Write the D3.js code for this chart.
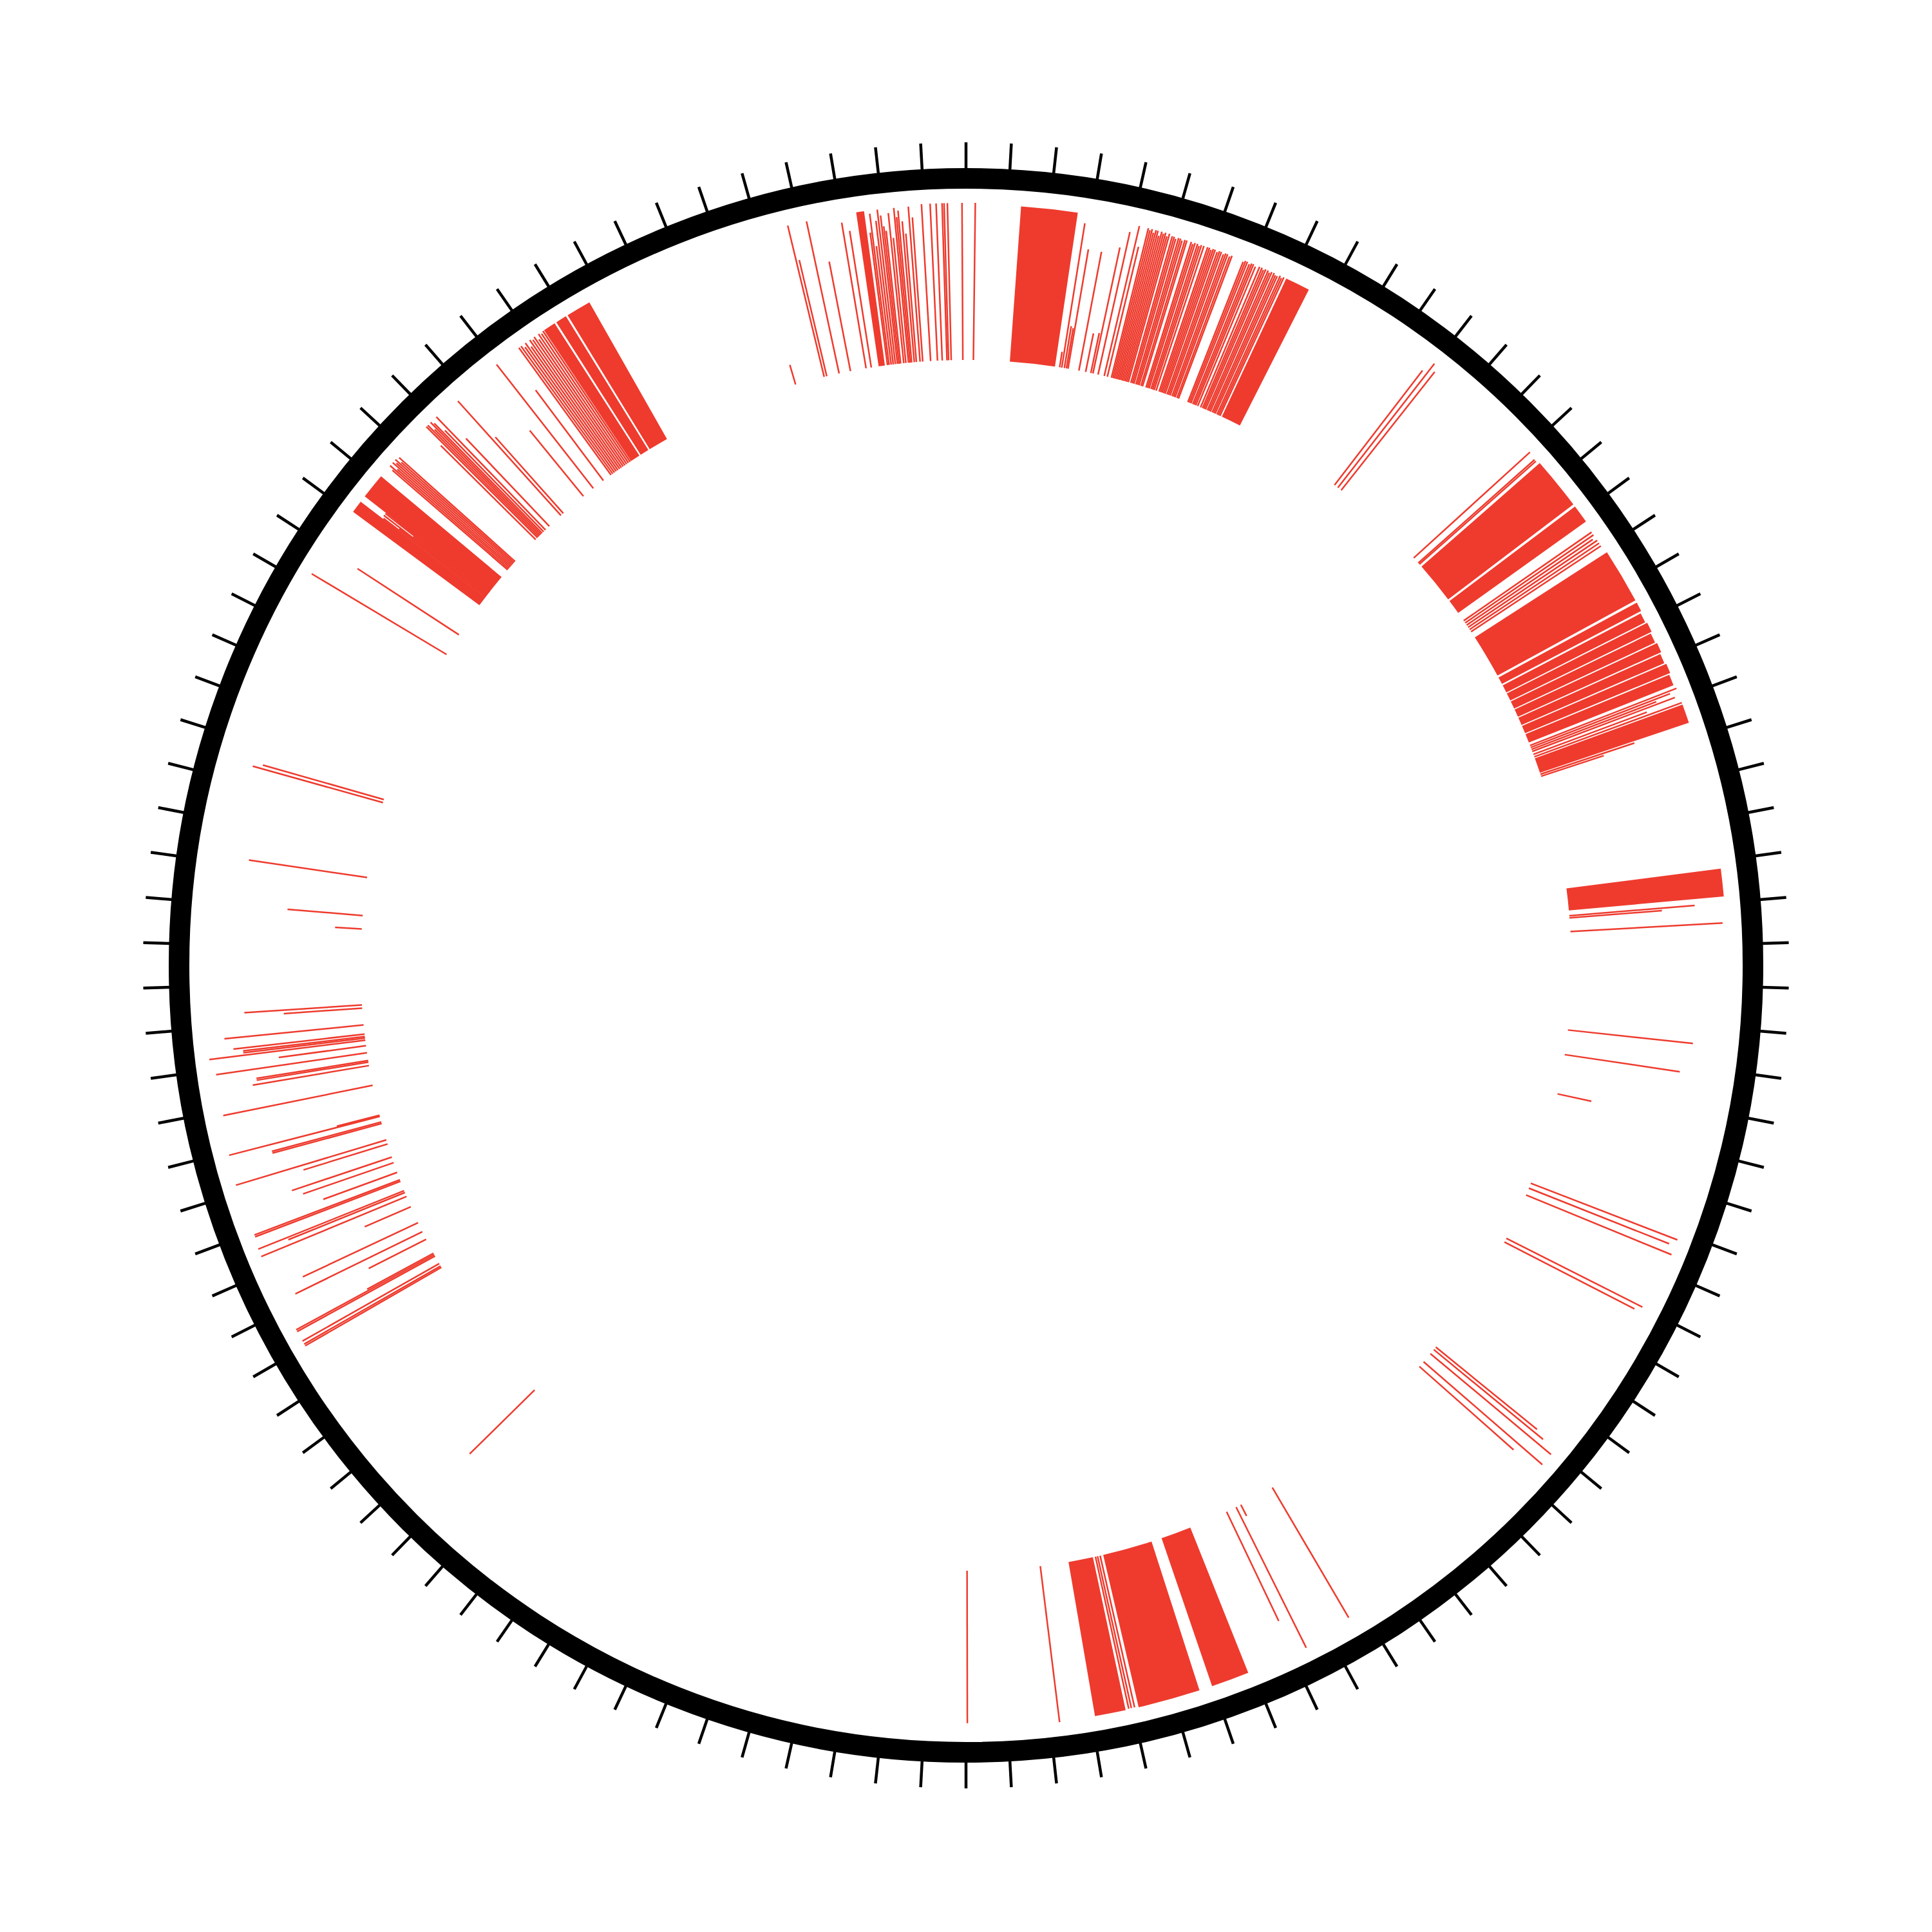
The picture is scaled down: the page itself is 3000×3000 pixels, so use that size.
<!DOCTYPE html>
<html><head><meta charset="utf-8">
<script src="https://cdn.jsdelivr.net/npm/d3@7"></script>
<style>html,body{margin:0;padding:0;background:#fff;} svg{display:block;}</style>
</head><body>
<svg id="chart" width="3000" height="3000"></svg>
<script>
// ---- data ----
const tickCount = 114;           // evenly spaced ticks round the circle
// individual bars: angular position (degrees, clockwise from top) and height (0-100)
const barAngles = [
  343.65, 346.45, 346.7, 347.9, 349.0, 350.5, 351.0, 352.55, 352.7, 352.9, 353.1, 353.3, 353.5, 353.65, 353.8, 354.1, 354.3,
  354.55, 354.7, 354.85, 355.1, 355.3, 355.65, 355.9, 356.65, 357.3, 357.75, 358.2, 358.35, 358.6, 359.7, 0.7,
  8.9, 9.1, 9.35, 9.55, 9.7, 10.75, 11.4, 11.9, 12.1, 12.6, 13.2, 13.5,
  13.9, 14.05, 14.2, 14.35, 14.5, 14.65, 14.8, 14.95, 15.1, 15.25, 15.4, 15.55,
  15.8, 15.95, 16.1, 16.3, 16.45, 16.6, 16.8, 16.95,
  17.3, 17.45, 17.6, 17.8, 17.95, 18.1, 18.3,
  18.6, 18.75, 18.9, 19.05, 19.2, 19.4, 19.55, 19.7, 19.9, 20.05, 20.2, 20.4, 20.55,
  21.5, 21.65, 21.8, 22.0, 22.15, 22.3, 22.5,
  22.8, 23.0, 23.15, 23.3, 23.5, 23.65, 23.8, 24.0, 24.15, 24.3, 24.5, 24.65, 24.8,
  37.5, 37.9, 38.3,
  47.7, 48.35, 48.5,
  55.3, 55.55, 55.8, 56.05, 56.3, 56.55,
  68.7, 68.9, 69.1, 69.3, 69.6, 69.85, 71.6, 71.8,
  85.3, 85.5, 86.8,
  96.13, 98.48, 102.26,
  111.1, 111.6, 112.3, 116.8, 117.2,
  129.1, 129.4, 129.9, 130.9, 131.5,
  149.6, 153.0, 153.5, 154.5,
  167.2, 167.45, 167.65, 172.95, 179.9,
  225.45,
  240.07, 240.22, 240.48, 241.3, 241.45, 241.6, 243.1, 243.9, 244.84, 246.5, 247.55, 247.96, 248.15,
  249.1, 249.25, 250.0, 250.98, 251.53, 252.84, 253.24, 254.85, 255.0, 255.55, 255.66, 258.57,
  260.47, 260.8, 260.95, 261.7, 262.37, 262.9, 263.1, 263.25, 263.48, 264.35, 265.95, 266.25,
  273.44, 274.72, 278.35, 285.6, 285.9,
  300.9, 303.1,
  307.5, 307.6, 307.7, 307.8, 307.9, 308.0, 308.1,
  310.8, 310.95, 311.1, 311.25, 311.4, 311.55, 311.7, 311.85,
  314.7, 314.95, 315.1, 315.25, 315.4, 315.55, 315.75, 316.0, 316.5,
  318.0, 318.3, 320.8, 322.0, 323.2,
  324.1, 324.3, 324.5, 324.7, 324.9, 325.1, 325.3, 325.5, 325.7, 325.9, 326.1, 326.3
];
const barValues = [
  13, 99, 76, 99, 71, 94, 88, 85, 97, 76, 92, 99, 95, 88, 85, 96, 80,
  99, 93, 97, 90, 82, 99, 92, 100, 100, 100, 100, 100, 100, 100, 100,
  10, 93, 27, 26, 77, 77, 25, 26, 82, 93, 98, 85,
  98, 97, 98, 96, 98, 98, 95, 98, 97, 98, 96, 98,
  97, 97, 96, 97, 97, 96, 97, 97,
  97, 96, 97, 97, 96, 97, 97,
  97, 97, 96, 97, 97, 96, 97, 97, 96, 97, 97, 96, 97,
  96, 97, 97, 96, 97, 97, 96,
  97, 97, 96, 97, 97, 96, 97, 97, 96, 96, 97, 96, 97,
  92, 100, 96,
  100, 99, 99,
  99, 99, 97, 99, 99, 99,
  100, 95, 85, 97, 77, 100, 63, 42,
  80, 59, 97,
  80, 74, 22,
  100, 96, 100, 97, 93,
  83, 90, 100, 100, 80,
  96, 8, 100, 77,
  99, 99, 99, 100, 97,
  58,
  100, 100, 100, 100, 100, 48, 41, 90, 81, 32, 100, 80, 100,
  99, 99, 50, 61, 67, 56, 100, 72, 72, 99, 28, 97,
  75, 72, 72, 97, 56, 100, 78, 78, 84, 89, 50, 75,
  17, 48, 76, 86, 80,
  100, 77,
  82, 70, 83, 60, 83, 75, 83,
  97, 100, 95, 100, 98, 100, 96, 99,
  85, 100, 100, 95, 100, 98, 90, 100, 77,
  98, 65, 54, 100, 72,
  100, 100, 98, 100, 96, 100, 99, 100, 97, 100, 99, 100
];
// solid runs of adjacent bars: start angle, end angle (degrees), height (0-100)
const blockStarts = [351.7, 4.15, 25.0, 48.8, 53.0, 57.2, 61.6,
  62.45, 63.3, 64.15, 65.0, 65.85, 66.7, 67.55,
  70.0, 82.7, 158.25, 162.15, 167.9, 306.5, 307.95, 326.4, 327.5, 328.5];
const blockEnds   = [352.3, 8.45, 26.9, 52.8, 54.4, 61.4, 62.3,
  63.2, 64.05, 64.9, 65.75, 66.6, 67.45, 68.4,
  71.45, 84.8, 161.15, 166.9, 170.25, 307.45, 309.9, 327.35, 328.35, 330.4];
const blockValues = [99, 99, 97, 100, 100, 100, 100,
  99, 100, 99, 100, 99, 100, 99,
  100, 99, 99.5, 99.5, 99.5, 100, 100, 100, 100, 100];

// ---- drawing ----
const cx = 1500, cy = 1499;
const ringRadius = 1222, ringWidth = 32;
const tickInner = 1236, tickOuter = 1278;
const red = "#ee3b2e";

const svg = d3.select("#chart");
svg.append("rect").attr("width", 3000).attr("height", 3000).attr("fill", "#fff");
const g = svg.append("g").attr("transform", `translate(${cx},${cy})`);

const angle = d3.scaleLinear().domain([0, 360]).range([0, 2 * Math.PI]);
const radius = d3.scaleLinear().domain([0, 100]).range([940, 1184]);

// blocks
const blocks = blockStarts.map((s, i) => ({s, e: blockEnds[i], v: blockValues[i]}));
const arc = d3.arc()
  .innerRadius(radius(0))
  .outerRadius(d => radius(d.v))
  .startAngle(d => angle(d.s))
  .endAngle(d => angle(d.e < d.s ? d.e + 360 : d.e));
g.append("g").selectAll("path").data(blocks).join("path")
  .attr("d", arc).attr("fill", red);

// bars
const bars = barAngles.map((a, i) => ({a, v: barValues[i]}));
g.append("g").selectAll("line").data(bars).join("line")
  .each(function(d) {
    const p0 = d3.pointRadial(angle(d.a), radius(0));
    const p1 = d3.pointRadial(angle(d.a), radius(d.v));
    d3.select(this).attr("x1", p0[0]).attr("y1", p0[1]).attr("x2", p1[0]).attr("y2", p1[1]);
  })
  .attr("stroke", red).attr("stroke-width", 2.5);

// ring
g.append("circle").attr("r", ringRadius).attr("fill", "none")
  .attr("stroke", "#000").attr("stroke-width", ringWidth);

// ticks
const ticks = d3.range(tickCount).map(i => i * 360 / tickCount);
g.append("g").selectAll("line").data(ticks).join("line")
  .each(function(t) {
    const p0 = d3.pointRadial(angle(t), tickInner);
    const p1 = d3.pointRadial(angle(t), tickOuter);
    d3.select(this).attr("x1", p0[0]).attr("y1", p0[1]).attr("x2", p1[0]).attr("y2", p1[1]);
  })
  .attr("stroke", "#000").attr("stroke-width", 4.5);
</script>
</body></html>
